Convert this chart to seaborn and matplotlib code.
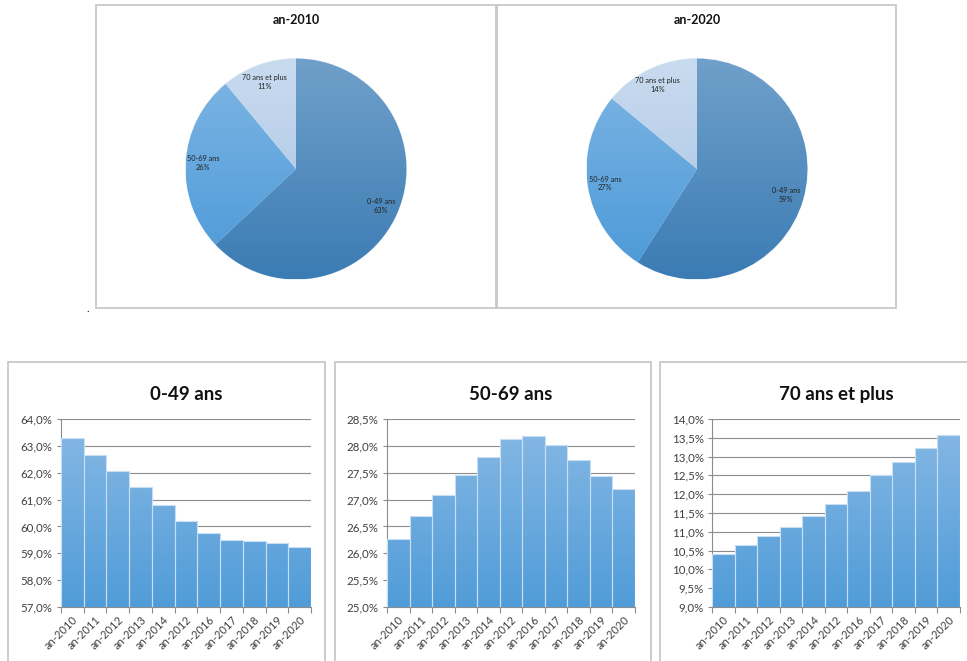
import numpy as np
import seaborn as sns
import matplotlib
matplotlib.use("Agg")
from matplotlib import pyplot as plt
from matplotlib.patches import Rectangle
from matplotlib.colors import LinearSegmentedColormap
from matplotlib.ticker import FuncFormatter, MultipleLocator

# données
annees = ['an-2010', 'an-2011', 'an-2012', 'an-2013', 'an-2014', 'an-2012',
          'an-2016', 'an-2017', 'an-2018', 'an-2019', 'an-2020']
groupes = ['0-49 ans', '50-69 ans', '70 ans et plus']
part_0_49 = [63.3, 62.65, 62.05, 61.45, 60.8, 60.2, 59.75, 59.5, 59.45, 59.38, 59.25]
part_50_69 = [26.27, 26.7, 27.08, 27.45, 27.8, 28.12, 28.18, 28.02, 27.73, 27.43, 27.2]
part_70 = [10.42, 10.65, 10.88, 11.12, 11.42, 11.73, 12.08, 12.5, 12.85, 13.22, 13.57]
pie_2010 = [63, 26, 11]
pie_2020 = [59, 27, 14]

sns.set_style("white")
plt.rcParams['font.family'] = ['Lato', 'DejaVu Sans']

W, H = 967, 661
fig = plt.figure(figsize=(W / 100, H / 100), dpi=100)
fig.patch.set_facecolor('white')


def box(x0, y0, x1, y1):
    return [x0 / W, 1 - y1 / H, (x1 - x0) / W, (y1 - y0) / H]


def cadre(x0, y0, x1, y1):
    r = Rectangle((x0 / W, 1 - y1 / H), (x1 - x0) / W, (y1 - y0) / H,
                  transform=fig.transFigure, fill=False,
                  edgecolor='#c8c8c8', lw=1.3, zorder=0)
    fig.add_artist(r)


def degrade(ax, patch, haut, bas, extent):
    # dégradé vertical clippé sur le patch
    cmap = LinearSegmentedColormap.from_list('d', [bas, haut])
    grad = np.linspace(0, 1, 256).reshape(-1, 1)
    im = ax.imshow(grad, cmap=cmap, extent=extent, origin='lower',
                   aspect='auto', zorder=patch.get_zorder(), interpolation='bicubic')
    im.set_clip_path(patch)
    patch.set_facecolor('none')


# cadres
cadre(96, 5, 496, 308)
cadre(497, 5, 896, 308)
cadre(8, 362, 325, 670)
cadre(335, 362, 651, 670)
cadre(660, 362, 975, 670)
fig.text(88 / W, 1 - 308 / H, '.', fontsize=8, ha='center', va='center')

# camemberts
couleurs_pie = ['#4e88bd', '#65a9e0', '#bcd3ee']
degrades_pie = [('#70a0ca', '#3b7cb4'), ('#80b6e4', '#4a99d8'), ('#c9dbef', '#a7c2e3')]
for vals, titre, cx in [(pie_2010, 'an-2010', 296), (pie_2020, 'an-2020', 697)]:
    ax = fig.add_axes(box(cx - 111, 58, cx + 111, 280))
    wedges, _ = ax.pie(vals, colors=couleurs_pie, startangle=90, counterclock=False,
                       wedgeprops=dict(edgecolor='#dfe9f4', linewidth=0.5))
    for w, (h, b) in zip(wedges, degrades_pie):
        degrade(ax, w, h, b, (-1, 1, -1, 1))
    ax.set_xlim(-1.005, 1.005)
    ax.set_ylim(-1.005, 1.005)
    ax.set_aspect('equal')
    ax.axis('off')
    total = sum(vals)
    for w, g, v in zip(wedges, groupes, vals):
        ang = np.deg2rad((w.theta1 + w.theta2) / 2)
        ax.text(0.84 * np.cos(ang), 0.84 * np.sin(ang), f'{g}\n{round(v / total * 100)}%',
                ha='center', va='center', fontsize=5.3, color='#222222',
                linespacing=1.3, zorder=5)
    fig.text(cx / W, 1 - 20 / H, titre, ha='center', va='center',
             fontsize=9, fontweight='bold', color='#111111')

# histogrammes
series = [(part_0_49, '0-49 ans', 61, 311, 57, 64, 1.0),
          (part_50_69, '50-69 ans', 387, 635, 25, 28.5, 0.5),
          (part_70, '70 ans et plus', 712, 960, 9, 14, 0.5)]
fmt = FuncFormatter(lambda v, p: f'{v:.1f}%'.replace('.', ','))
pos = np.arange(len(annees))
for vals, titre, x0, x1, ymin, ymax, pas in series:
    ax = fig.add_axes(box(x0, 419, x1, 607))
    sns.barplot(x=pos, y=vals, ax=ax, color='#6aaadf', width=1.0, saturation=1,
                edgecolor='#c8def2', linewidth=0.8, zorder=3)
    for p in ax.patches:
        degrade(ax, p, '#88b9e5', '#509cd8', (-0.5, len(annees) - 0.5, ymin, ymax))
        p.set_zorder(4)
    ax.set_ylim(ymin, ymax)
    ax.set_xlim(-0.5, len(annees) - 0.5)
    ax.yaxis.set_major_locator(MultipleLocator(pas))
    ax.yaxis.set_major_formatter(fmt)
    ax.grid(axis='y', color='#8c8c8c', lw=0.8, zorder=0)
    ax.set_axisbelow(True)
    ax.set_xticks(pos)
    ax.set_xticklabels(annees, rotation=45, ha='right', rotation_mode='anchor')
    ax.set_xticks(np.arange(-0.5, len(annees)), minor=True)
    ax.tick_params(axis='x', which='major', length=0, pad=5, labelsize=8, labelcolor='#404040')
    ax.tick_params(axis='x', which='minor', length=4, width=0.8, color='#8c8c8c', bottom=True)
    ax.tick_params(axis='y', length=3, width=0.8, color='#8c8c8c', left=True,
                   labelsize=8.3, labelcolor='#404040', pad=3)
    ax.set_xlabel('')
    ax.set_ylabel('')
    for s in ['top', 'right']:
        ax.spines[s].set_visible(False)
    for s in ['left', 'bottom']:
        ax.spines[s].set_color('#8c8c8c')
        ax.spines[s].set_linewidth(0.8)
    ax.set_title(titre, fontsize=13.5, color='#111111', pad=14, fontweight='bold')

fig.savefig('out.png', dpi=100, facecolor='white')
